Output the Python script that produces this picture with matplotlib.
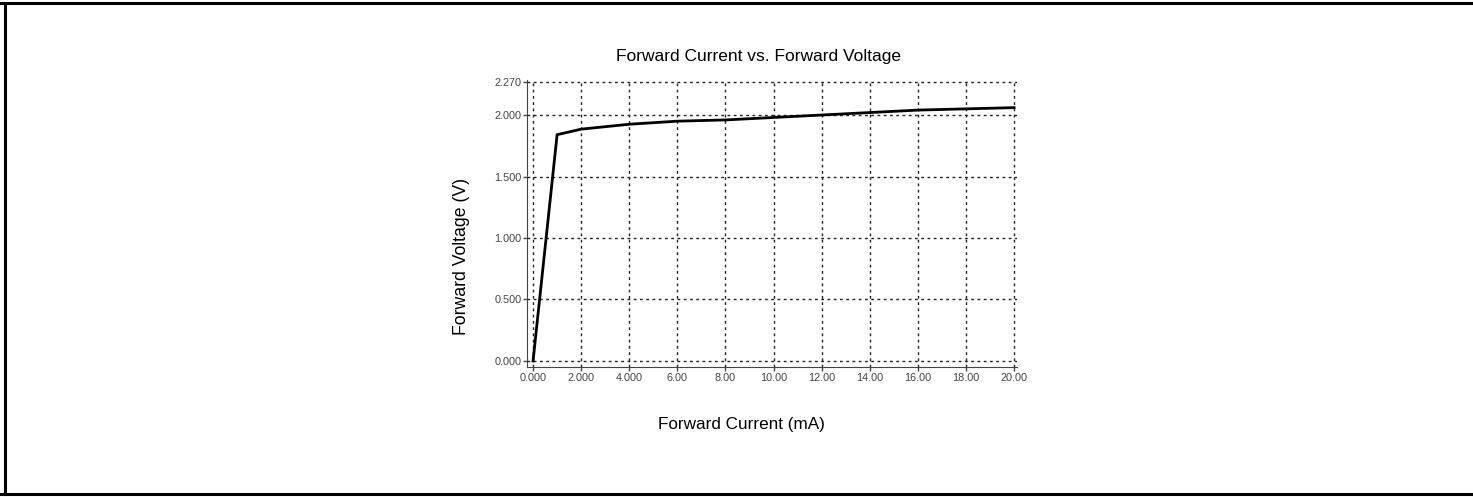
import matplotlib.pyplot as plt
from matplotlib.lines import Line2D

# forward current (mA) vs forward voltage (V)
current = [0, 1, 2, 4, 6, 8, 10, 12, 14, 16, 18, 20]
voltage = [0.0, 1.84, 1.885, 1.925, 1.95, 1.96, 1.98, 2.0, 2.02, 2.04, 2.05, 2.06]

x_ticks = [0, 2, 4, 6, 8, 10, 12, 14, 16, 18, 20]
x_labels = ['0.000', '2.000', '4.000', '6.00', '8.00', '10.00', '12.00', '14.00', '16.00', '18.00', '20.00']
y_ticks = [0.0, 0.5, 1.0, 1.5, 2.0, 2.27]
y_labels = ['0.000', '0.500', '1.000', '1.500', '2.000', '2.270']

plt.rcParams['font.family'] = ['Liberation Sans', 'DejaVu Sans']

W, H = 1473, 497
fig = plt.figure(figsize=(W / 100, H / 100), dpi=100)
ax = fig.add_axes([0.3578, 0.2616, 0.3323, 0.5775])

ax.plot(current, voltage, color='black', linewidth=2, solid_joinstyle='miter')

ax.set_xlim(-0.25, 20.1)
ax.set_ylim(-0.049, 2.285)
ax.set_xticks(x_ticks)
ax.set_xticklabels(x_labels, fontsize=7.8, color='#333333')
ax.set_yticks(y_ticks)
ax.set_yticklabels(y_labels, fontsize=7.8, color='#333333')
ax.tick_params(length=3, width=1, pad=1, colors='#444444')

ax.grid(True, color='#222222', linestyle=(0, (2, 2.5)), linewidth=1)
ax.spines['top'].set_visible(False)
ax.spines['right'].set_visible(False)
ax.spines['left'].set_color('#444444')
ax.spines['bottom'].set_color('#444444')

# titles are centred on the whole chart block, not on the plot area
fig.text(758 / W, 1 - 57 / H, 'Forward Current vs. Forward Voltage', fontsize=12.5, ha='center', va='center')
fig.text(741 / W, 1 - 425 / H, 'Forward Current (mA)', fontsize=12.3, ha='center', va='center')
fig.text(462 / W, 1 - 256 / H, 'Forward Voltage (V)', fontsize=12.7, ha='center', va='center', rotation=90)

# page frame lines
fig.add_artist(Line2D([0, 1], [1 - 3 / H, 1 - 3 / H], transform=fig.transFigure, color='black', linewidth=2.2))
fig.add_artist(Line2D([5 / W, 5 / W], [3 / H, 1 - 3 / H], transform=fig.transFigure, color='black', linewidth=2.2))
fig.add_artist(Line2D([0, 1], [3 / H, 3 / H], transform=fig.transFigure, color='black', linewidth=2.2))

fig.savefig('out.png', dpi=100)
